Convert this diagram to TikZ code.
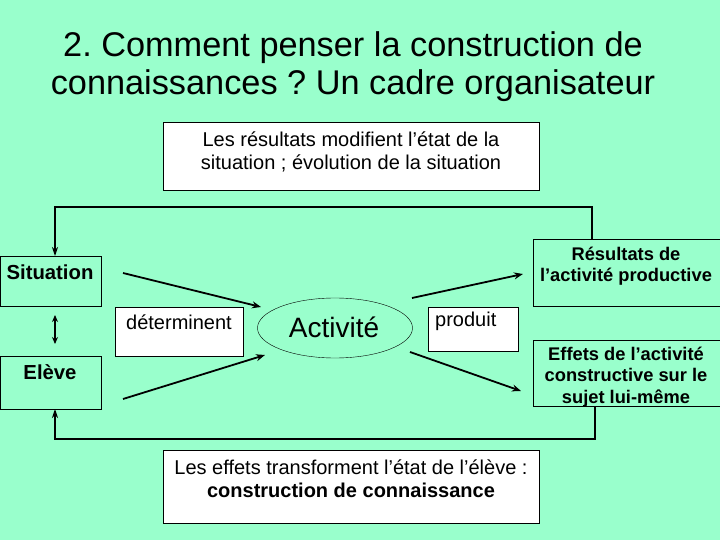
\documentclass[tikz,border=0pt]{standalone}
\usepackage{fontspec}
\setmainfont{Liberation Sans}
\usetikzlibrary{arrows.meta,shapes.geometric}
\definecolor{bg}{RGB}{153,255,204}
\frenchspacing
\tikzset{
  box/.style={draw=black,line width=0.8pt,fill=white},
  gbox/.style={draw=black,line width=0.8pt},
  arr/.style={line width=1.8pt,-{Stealth[length=9pt,width=7pt]}},
  fbarr/.style={line width=1.1pt,-{Stealth[length=9pt,width=6pt]}},
  txt/.style={font=\fontsize{20}{23}\selectfont,align=center,inner sep=0pt},
  btxt/.style={font=\fontsize{18.3}{21.3}\selectfont\bfseries,align=center,inner sep=0pt},
  ltxt/.style={font=\fontsize{20.3}{23}\selectfont\bfseries,align=center,inner sep=0pt},
}
\begin{document}
\begin{tikzpicture}[x=1pt,y=-1pt]
\fill[bg] (0,0) rectangle (720,540);
\useasboundingbox (0,0) rectangle (720,540);
% title
\node[font=\fontsize{34.3}{38}\selectfont,align=center,inner sep=0pt] (title) at (353,67)
  {2. Comment penser la construction de\\connaissances ? Un cadre organisateur};
% top box
\node[box,minimum width=376pt,minimum height=68pt,inner sep=0pt] (topbox) at (351,156) {};
\node[txt] (toptxt) at (351,152) {Les résultats modifient l’état de la\\situation ; évolution de la situation};
% bottom box
\node[box,minimum width=376pt,minimum height=73pt,inner sep=0pt] (botbox) at (351,487) {};
\node[txt] (bottxt) at (351,479) {Les effets transforment l’état de l’élève :\\\textbf{construction de connaissance}};
% left boxes
\node[gbox,minimum width=101pt,minimum height=50pt,inner sep=0pt,anchor=north west] (sit) at (0,256) {};
\node[ltxt] (sittxt) at (50,272) {Situation};
\node[gbox,minimum width=101pt,minimum height=53pt,inner sep=0pt,anchor=north west] (eleve) at (0,356) {};
\node[ltxt] (elevetxt) at (50,372) {Elève};
% middle label boxes
\node[box,minimum width=128pt,minimum height=49pt,inner sep=0pt,anchor=north west] (det) at (115,307) {};
\node[txt] (dettxt) at (179,322) {déterminent};
\node[box,minimum width=90pt,minimum height=44pt,inner sep=0pt,anchor=north west] (prod) at (428,307) {};
\node[txt,anchor=west] (prodtxt) at (435,321) {produit};
% ellipse
\node[ellipse,draw=black,line width=0.4pt,minimum width=155pt,minimum height=60pt,inner sep=0pt] (act) at (335,328) {};
\node[font=\fontsize{28}{32}\selectfont,inner sep=0pt] (acttxt) at (334,327) {Activité};
% right boxes
\node[gbox,minimum width=187pt,minimum height=67pt,inner sep=0pt,anchor=north west] (res) at (533,239) {};
\node[btxt] (restxt) at (626,266) {Résultats de\\l’activité productive};
\node[gbox,minimum width=187pt,minimum height=66pt,inner sep=0pt,anchor=north west] (eff) at (533,340) {};
\node[btxt] (efftxt) at (626,377) {Effets de l’activité\\constructive sur le\\sujet lui-même};
% coordinates
\coordinate (s1) at (123,273);
\coordinate (a1) at (261,307);
\coordinate (e1) at (123,399);
\coordinate (a2) at (265,355);
\coordinate (a3) at (412,298);
\coordinate (r1) at (523,274);
\coordinate (a4) at (410,352);
\coordinate (f1) at (521,391);
\coordinate (t1) at (592,239);
\coordinate (t2) at (592,207);
\coordinate (t3) at (55,207);
\coordinate (t4) at (55,256);
\coordinate (b1) at (595,406);
\coordinate (b2) at (595,439);
\coordinate (b3) at (55,439);
\coordinate (b4) at (55,409);
\coordinate (d1) at (55,315);
\coordinate (d2) at (55,344);
% arrows
\draw[arr] (s1) -- (a1);
\draw[arr] (e1) -- (a2);
\draw[arr] (a3) -- (r1);
\draw[arr] (a4) -- (f1);
\draw[fbarr] (t1) -- (t2) -- (t3) -- (t4);
\draw[fbarr] (b1) -- (b2) -- (b3) -- (b4);
\draw[line width=1.8pt,{Stealth[length=7pt,width=6pt]}-{Stealth[length=7pt,width=6pt]}] (d1) -- (d2);
\end{tikzpicture}
\end{document}
